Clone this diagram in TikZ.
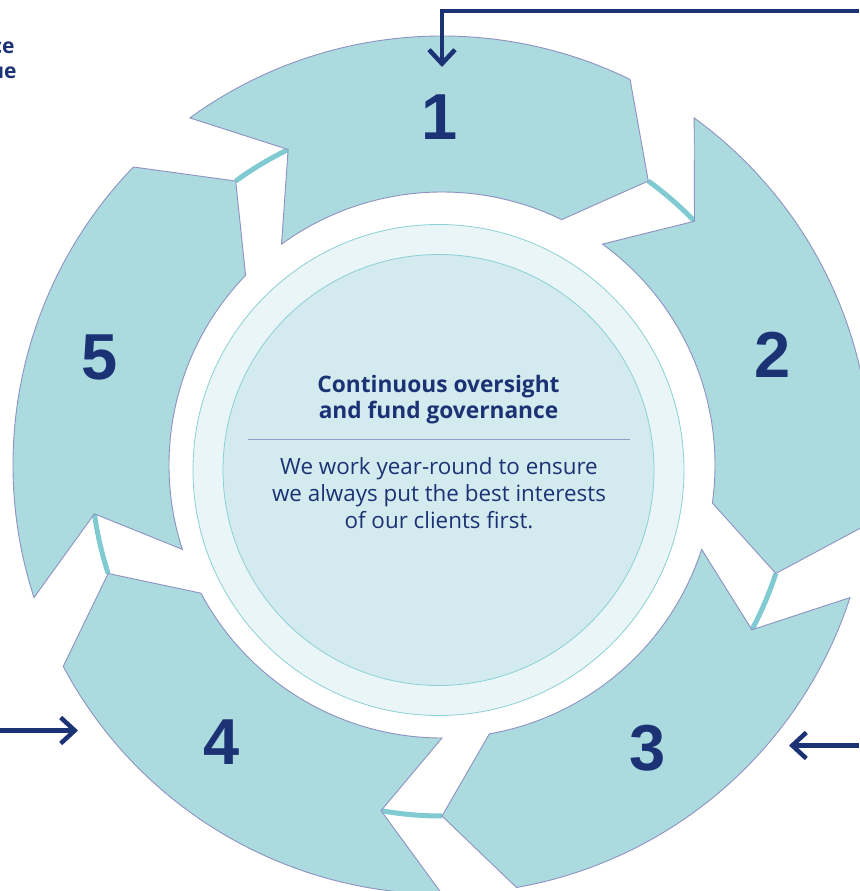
\documentclass[tikz,border=0pt]{standalone}
\usepackage{fontspec}
\setmainfont{Open Sans}
\newfontfamily\numfont{Liberation Sans}
\usetikzlibrary{arrows.meta}

\definecolor{navy}{HTML}{1B3275}
\definecolor{segfill}{HTML}{ABDADF}
\definecolor{segline}{HTML}{8E92C2}
\definecolor{linkcol}{HTML}{80CBD1}
\definecolor{ringfill}{HTML}{E9F5F6}
\definecolor{corefill}{HTML}{D3EBEE}
\definecolor{ringline}{HTML}{8AD0D6}
\definecolor{rulecol}{HTML}{8F9CC4}

\tikzset{
  segment/.style={fill=segfill, draw=segline, line width=0.9pt, line join=miter},
  link/.style={draw=linkcol, line width=5pt},
  num/.style={font=\numfont\bfseries\fontsize{65}{65}\selectfont, text=navy},
  feed/.style={draw=navy, line width=4.5pt},
  frag/.style={text=navy, anchor=east, font=\bfseries\fontsize{21}{26}\selectfont},
  >={Straight Barb[length=14pt,width=26pt]}
}

\begin{document}
\begin{tikzpicture}[x=1pt,y=1pt]
  \useasboundingbox (-442,-426) rectangle (417,465);

  \node[circle, draw=ringline, fill=ringfill, line width=0.8pt, minimum size=491pt, inner sep=0pt] (ring) at (-3.5,-5) {};
  \node[circle, draw=ringline, fill=corefill, line width=0.8pt, minimum size=431pt, inner sep=0pt] (core) at (-3.5,-5) {};

  \coordinate (tip1) at (54:351);
  \coordinate (tip2) at (-18:351);
  \coordinate (tip3) at (-90:351);
  \coordinate (tip4) at (-162:351);
  \coordinate (tip5) at (126:351);

  \draw[link] (tip1) arc[start angle=54, end angle=44, radius=351];
  \draw[link] (tip2) arc[start angle=-18, end angle=-28, radius=351];
  \draw[link] (tip3) arc[start angle=-90, end angle=-100, radius=351];
  \draw[link] (tip4) arc[start angle=-162, end angle=-172, radius=351];
  \draw[link] (tip5) arc[start angle=126, end angle=116, radius=351];

  \draw[segment] (126:429) arc[start angle=126, end angle=64, radius=429] -- (tip1)
    -- (64:273) arc[start angle=64, end angle=126, radius=273] -- (116:351) -- cycle;
  \draw[segment] (54:429) arc[start angle=54, end angle=-8, radius=429] -- (tip2)
    -- (-8:273) arc[start angle=-8, end angle=54, radius=273] -- (44:351) -- cycle;
  \draw[segment] (-18:429) arc[start angle=-18, end angle=-80, radius=429] -- (tip3)
    -- (-80:273) arc[start angle=-80, end angle=-18, radius=273] -- (-28:351) -- cycle;
  \draw[segment] (-90:429) arc[start angle=-90, end angle=-152, radius=429] -- (tip4)
    -- (-152:273) arc[start angle=-152, end angle=-90, radius=273] -- (-100:351) -- cycle;
  \draw[segment] (198:429) arc[start angle=198, end angle=136, radius=429] -- (tip5)
    -- (136:273) arc[start angle=136, end angle=198, radius=273] -- (188:351) -- cycle;

  \node[num] (one) at (-2,348) {1};
  \node[num] (two) at (331,110) {2};
  \node[num] (three) at (206,-283) {3};
  \node[num] (four) at (-220,-277) {4};
  \node[num] (five) at (-342,108) {5};

  \node[text=navy, align=center, font=\bfseries\fontsize{22.7}{26}\selectfont] (title) at (-3.5,65) {Continuous oversight\\and fund governance};
  \coordinate (ruleL) at (-194,26);
  \coordinate (ruleR) at (188,26);
  \draw[rulecol, line width=0.8pt] (ruleL) -- (ruleR);
  \node[text=navy, align=center, font=\fontsize{22.4}{27}\selectfont] (body) at (-3,-28) {We work year-round to ensure\\we always put the best interests\\of our clients first.};

  \coordinate (topstart) at (417,454);
  \coordinate (topcorner) at (0,454);
  \coordinate (topend) at (0,398);
  \draw[->, feed] (topstart) -- (topcorner) -- (topend);

  \coordinate (leftstart) at (-442,-265.5);
  \coordinate (leftend) at (-364,-265.5);
  \draw[->, feed] (leftstart) -- (leftend);

  \coordinate (rightstart) at (417,-280.5);
  \coordinate (rightend) at (347,-280.5);
  \draw[->, feed] (rightstart) -- (rightend);

  \node[frag] (frag1) at (-424,417) {ce};
  \node[frag] (frag2) at (-422,392) {ue};
\end{tikzpicture}
\end{document}
